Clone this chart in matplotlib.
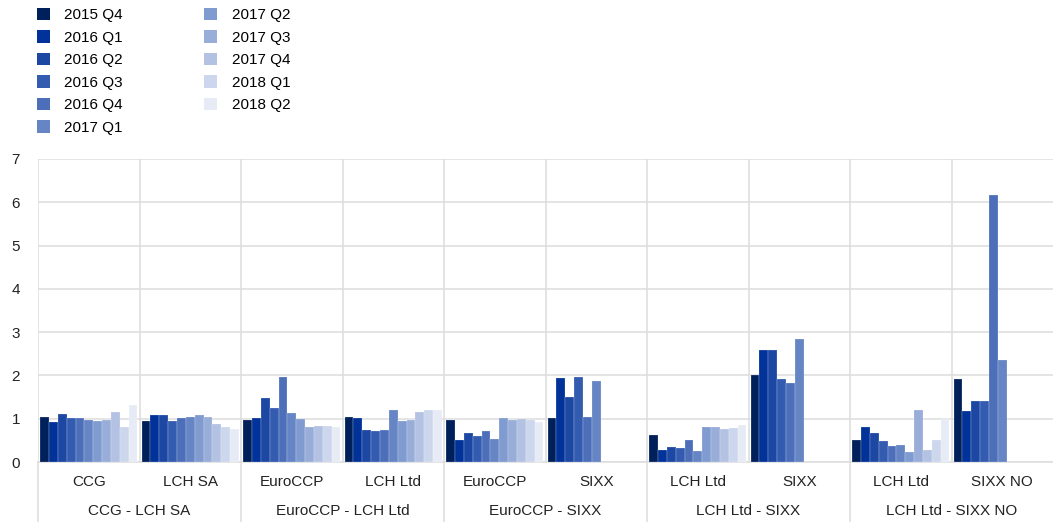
import numpy as np
import matplotlib
matplotlib.use("Agg")
import matplotlib.pyplot as plt
from matplotlib.patches import Patch
from matplotlib.lines import Line2D
from matplotlib.transforms import blended_transform_factory

plt.rcParams['font.family'] = ['Liberation Sans', 'DejaVu Sans']

quarters = ['2015 Q4', '2016 Q1', '2016 Q2', '2016 Q3', '2016 Q4', '2017 Q1',
            '2017 Q2', '2017 Q3', '2017 Q4', '2018 Q1', '2018 Q2']
categories = ['CCG', 'LCH SA', 'EuroCCP', 'LCH Ltd', 'EuroCCP', 'SIXX',
              'LCH Ltd', 'SIXX', 'LCH Ltd', 'SIXX NO']
groups = ['CCG - LCH SA', 'EuroCCP - LCH Ltd', 'EuroCCP - SIXX',
          'LCH Ltd - SIXX', 'LCH Ltd - SIXX NO']
nan = np.nan
# values per category (rows) across quarters (columns)
ccg = [1.05, 0.92, 1.12, 1.02, 1.02, 0.98, 0.94, 0.96, 1.15, 0.80, 1.31]
lch_sa = [0.95, 1.09, 1.09, 0.94, 1.02, 1.05, 1.08, 1.05, 0.87, 0.80, 0.76]
euroccp_l = [0.96, 1.01, 1.48, 1.24, 1.97, 1.13, 1.00, 0.80, 0.83, 0.84, 0.82]
lch_ltd_e = [1.05, 1.02, 0.75, 0.72, 0.75, 1.21, 0.95, 0.96, 1.15, 1.20, 1.20]
euroccp_s = [0.98, 0.51, 0.66, 0.60, 0.71, 0.54, 1.02, 0.97, 0.99, 0.97, 0.92]
sixx_e = [1.02, 1.94, 1.50, 1.97, 1.03, 1.88, nan, nan, nan, nan, nan]
lch_ltd_s = [0.63, 0.28, 0.35, 0.33, 0.51, 0.26, 0.82, 0.80, 0.76, 0.79, 0.85]
sixx_l = [2.00, 2.59, 2.59, 1.92, 1.82, 2.84, nan, nan, nan, nan, nan]
lch_ltd_n = [0.50, 0.81, 0.68, 0.49, 0.38, 0.39, 0.24, 1.19, 0.27, 0.51, 0.99]
sixx_no = [1.92, 1.17, 1.40, 1.40, 6.16, 2.36, nan, nan, nan, nan, nan]
values = np.array([ccg, lch_sa, euroccp_l, lch_ltd_e, euroccp_s, sixx_e,
                   lch_ltd_s, sixx_l, lch_ltd_n, sixx_no])
yticks = [0, 1, 2, 3, 4, 5, 6, 7]

colors = ['#00205b', '#003299', '#1c47a3', '#335bb0', '#4d6fba', '#6685c4',
          '#809bcf', '#99add9', '#b3c2e3', '#ccd6ec', '#e6ebf6']

FS = 11
W, H = 1053, 522
fig = plt.figure(figsize=(W / 100, H / 100), dpi=100)
ax = fig.add_axes([38 / W, 1 - 462 / H, (1053 - 38) / W, (462 - 159) / H])

ncat = len(categories)
nq = len(quarters)
bw = 0.0872
start = 0.021
x = np.arange(ncat)
for k in range(nq):
    ax.bar(x + start + k * bw + bw / 2, values[:, k], width=bw, color=colors[k],
           edgecolor=(1, 1, 1, 0.5), linewidth=0.3, zorder=3)

ax.set_xlim(0, ncat)
ax.set_ylim(0, 7)
ax.set_yticks(yticks)
ax.set_xticks(np.arange(ncat))
ax.set_xticklabels([])
ax.tick_params(axis='both', length=0, labelsize=FS, colors='#222222')
ax.tick_params(axis='y', pad=13)
ax.grid(True, color='#dddddd', linewidth=1.1, zorder=0)
for s in ['top', 'right', 'left']:
    ax.spines[s].set_visible(False)
ax.spines['bottom'].set_color('#dddddd')
ax.spines['bottom'].set_linewidth(1.1)

trans = blended_transform_factory(ax.transData, fig.transFigure)
for i, c in enumerate(categories):
    ax.text(i + 0.5, 1 - 482 / H, c, transform=trans, ha='center', va='center',
            fontsize=FS, color='#222222')
for g, name in enumerate(groups):
    ax.text(2 * g + 1, 1 - 511 / H, name, transform=trans, ha='center', va='center',
            fontsize=FS, color='#222222')
for b in range(0, ncat, 2):
    fig.add_artist(Line2D([b, b], [0, 1 - 462 / H], transform=trans,
                          color='#dddddd', linewidth=1.1))

handles = [Patch(facecolor=colors[k], edgecolor='none') for k in range(nq)]
fig.legend(handles, quarters, loc='upper left', bbox_to_anchor=(37 / W, 1 - 8 / H),
           ncol=2, frameon=False, fontsize=FS, handlelength=0.85, handleheight=0.85,
           handletextpad=0.95, columnspacing=5.3, labelspacing=0.53, borderpad=0,
           borderaxespad=0)

fig.savefig('out.png', dpi=100)
